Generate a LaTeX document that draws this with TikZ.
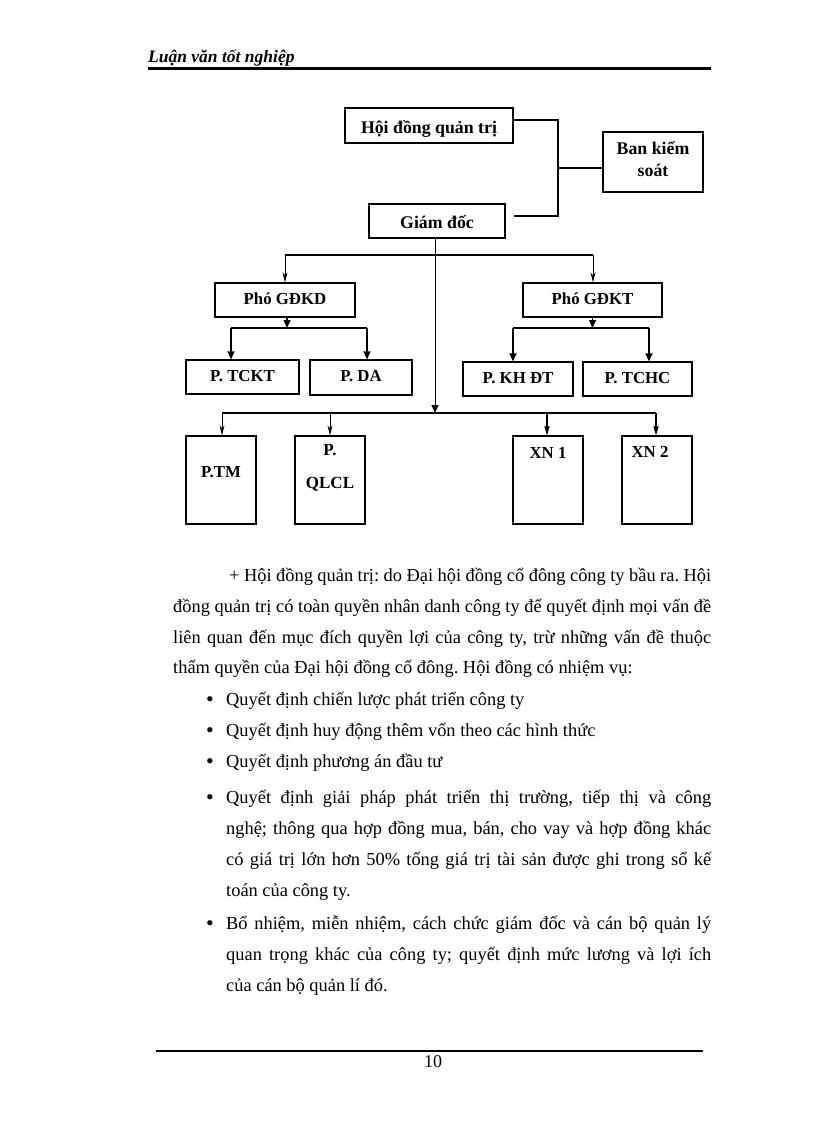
\documentclass[tikz,border=0pt]{standalone}
\usepackage{fontspec}
\setmainfont{Liberation Serif}
\usetikzlibrary{arrows.meta}
\frenchspacing
\begin{document}
\begin{tikzpicture}[x=1pt,y=-1pt,
  box/.style={draw, line width=1.2pt, inner sep=0pt, font=\bfseries\fontsize{16.8}{20}\selectfont, text height=12pt, text depth=4pt},
  topbox/.style={box, font=\bfseries\fontsize{17.8}{22}\selectfont, text height=20pt, text depth=4pt},
  tallbox/.style={box, minimum width=70pt, minimum height=88pt},
  lbl/.style={inner sep=0pt, anchor=base, font=\bfseries\fontsize{17}{20}\selectfont},
  heavy/.style={line width=1.8pt},
  bus/.style={line width=1.2pt},
  thinarrow/.style={line width=1pt, -{Stealth[length=10pt,width=5pt,inset=3pt]}},
  fillarrow/.style={line width=1.2pt, -{Triangle[length=8pt,width=7pt]}},
  narrowarrow/.style={line width=1.2pt, -{Triangle[length=9pt,width=5pt]}},
  txt/.style={inner sep=0pt, anchor=base west, font=\fontsize{18.4}{22}\selectfont\frenchspacing},
  dot/.style={inner sep=0pt, anchor=base west, font=\fontsize{22}{22}\selectfont},
  hdr/.style={inner sep=0pt, anchor=base west, font=\bfseries\itshape\fontsize{17.5}{20}\selectfont}
]
\useasboundingbox (0,0) rectangle (816,1123);
\fill[white] (0,0) rectangle (816,1123);

% header and footer
\node[hdr] (header) at (148,63) {Luận văn tốt nghiệp};
\draw[line width=3pt] (148,69) -- (711,69);
\draw[line width=2.5pt] (156,1051) -- (703,1051);
\node[inner sep=0pt, anchor=base, font=\fontsize{18}{20}\selectfont] (page) at (433,1067) {10};

% boxes
\node[topbox, minimum width=168pt, minimum height=35pt] (hdqt) at (429,125.5) {Hội đồng quản trị};
\node[box, minimum width=100pt, minimum height=60pt] (bks) at (653,162) {};
\node[lbl, font=\bfseries\fontsize{17.8}{22}\selectfont] (bks1) at (653,155) {Ban kiểm};
\node[lbl, font=\bfseries\fontsize{17.8}{22}\selectfont] (bks2) at (653,177) {soát};
\node[topbox, minimum width=136pt, minimum height=34pt] (gd) at (437,221) {Giám đốc};

\node[box, minimum width=140pt, minimum height=34pt] (pkd) at (285,300) {Phó GĐKD};
\node[box, minimum width=139pt, minimum height=34pt] (pkt) at (592.5,300) {Phó GĐKT};

\node[box, minimum width=113pt, minimum height=34pt] (tckt) at (242.5,377) {P. TCKT};
\node[box, minimum width=102pt, minimum height=35pt] (da) at (361,377.5) {P. DA};
\node[box, minimum width=110pt, minimum height=34pt] (khdt) at (518,379) {P. KH ĐT};
\node[box, minimum width=109pt, minimum height=34pt] (tchc) at (637.5,379) {P. TCHC};

\node[tallbox, text depth=18pt] (tm) at (221,480) {P.TM};
\node[tallbox] (qlcl) at (330,480) {};
\node[lbl] (qlcl1) at (330,455) {P.};
\node[lbl] (qlcl2) at (330,488) {QLCL};
\node[tallbox, text depth=56pt] (xn1) at (548,480) {XN 1};
\node[tallbox, text depth=58pt] (xn2) at (657,480) {XN 2\hspace*{14pt}};

% board / supervisory connector
\coordinate (kv) at (558,168);
\draw[heavy] ([yshift=5.5pt]hdqt.east) -| (kv) |- ([xshift=8pt,yshift=5pt]gd.east);
\draw[heavy] (kv) -- (kv -| bks.west);

% centre trunk
\coordinate (cb) at (435,413);
\draw[line width=1pt, -{Triangle[length=8pt,width=7pt]}] ([xshift=-2pt]gd.south) -- (cb);

% top bus to deputies
\coordinate (tbl) at (285,255);
\coordinate (tbr) at (593,255);
\draw[bus] (tbl) -- (tbr);
\draw[thinarrow] (tbl) -- (tbl |- pkd.north);
\draw[thinarrow] (tbr) -- (tbr |- pkt.north);

% left deputy
\coordinate (sl1) at (231,328);
\coordinate (sl2) at (367,328);
\draw[bus] (sl1) -- (sl2);
\draw[fillarrow] ([xshift=2pt]pkd.south) -- ([xshift=2pt]pkd.south |- sl1);
\draw[fillarrow] (sl1) -- (sl1 |- tckt.north);
\draw[fillarrow] (sl2) -- (sl2 |- da.north);

% right deputy
\coordinate (sr1) at (513,328);
\coordinate (sr2) at (649,328);
\draw[bus] (sr1) -- (sr2);
\draw[fillarrow] (pkt.south) -- (pkt.south |- sr1);
\draw[fillarrow] (sr1) -- (sr1 |- khdt.north);
\draw[fillarrow] (sr2) -- (sr2 |- tchc.north);

% bottom bus
\coordinate (bl) at (222,413);
\coordinate (bq) at (330,413);
\coordinate (bx1) at (547,413);
\coordinate (br) at (656,413);
\draw[bus] (bl) -- (br);
\draw[thinarrow] (bl) -- (bl |- tm.north);
\draw[thinarrow] (bq) -- (bq |- qlcl.north);
\draw[narrowarrow] (bx1) -- (bx1 |- xn1.north);
\draw[narrowarrow] (br) -- (br |- xn2.north);

% body text
\node[txt] (t1) at (229,581) {\makebox[482pt][s]{+ Hội đồng quản trị: do Đại hội đồng cổ đông công ty bầu ra. Hội}};
\node[txt] (t2) at (173,612) {\makebox[538pt][s]{đồng quản trị có toàn quyền nhân danh công ty để quyết định mọi vấn đề}};
\node[txt] (t3) at (173,643) {\makebox[538pt][s]{liên quan đến mục đích quyền lợi của công ty, trừ những vấn đề thuộc}};
\node[txt] (t4) at (173,673) {thẩm quyền của Đại hội đồng cổ đông. Hội đồng có nhiệm vụ:};

\node[dot] (d1) at (206,706) {•};
\node[txt] (b1) at (226,705) {Quyết định chiến lược phát triển công ty};
\node[dot] (d2) at (206,737) {•};
\node[txt] (b2) at (226,736) {Quyết định huy động thêm vốn theo các hình thức};
\node[dot] (d3) at (206,768) {•};
\node[txt] (b3) at (226,767) {Quyết định phương án đầu tư};
\node[dot] (d4) at (206,804) {•};
\node[txt] (b4a) at (226,803) {\makebox[485pt][s]{Quyết định giải pháp phát triển thị trường, tiếp thị và công}};
\node[txt] (b4b) at (226,834) {\makebox[485pt][s]{nghệ; thông qua hợp đồng mua, bán, cho vay và hợp đồng khác}};
\node[txt] (b4c) at (226,865) {\makebox[485pt][s]{có giá trị lớn hơn 50\% tổng giá trị tài sản được ghi trong sổ kế}};
\node[txt] (b4d) at (226,896) {toán của công ty.};
\node[dot] (d5) at (206,930) {•};
\node[txt] (b5a) at (226,929) {\makebox[485pt][s]{Bổ nhiệm, miễn nhiệm, cách chức giám đốc và cán bộ quản lý}};
\node[txt] (b5b) at (226,960) {\makebox[485pt][s]{quan trọng khác của công ty; quyết định mức lương và lợi ích}};
\node[txt] (b5c) at (226,991) {của cán bộ quản lí đó.};
\end{tikzpicture}
\end{document}
